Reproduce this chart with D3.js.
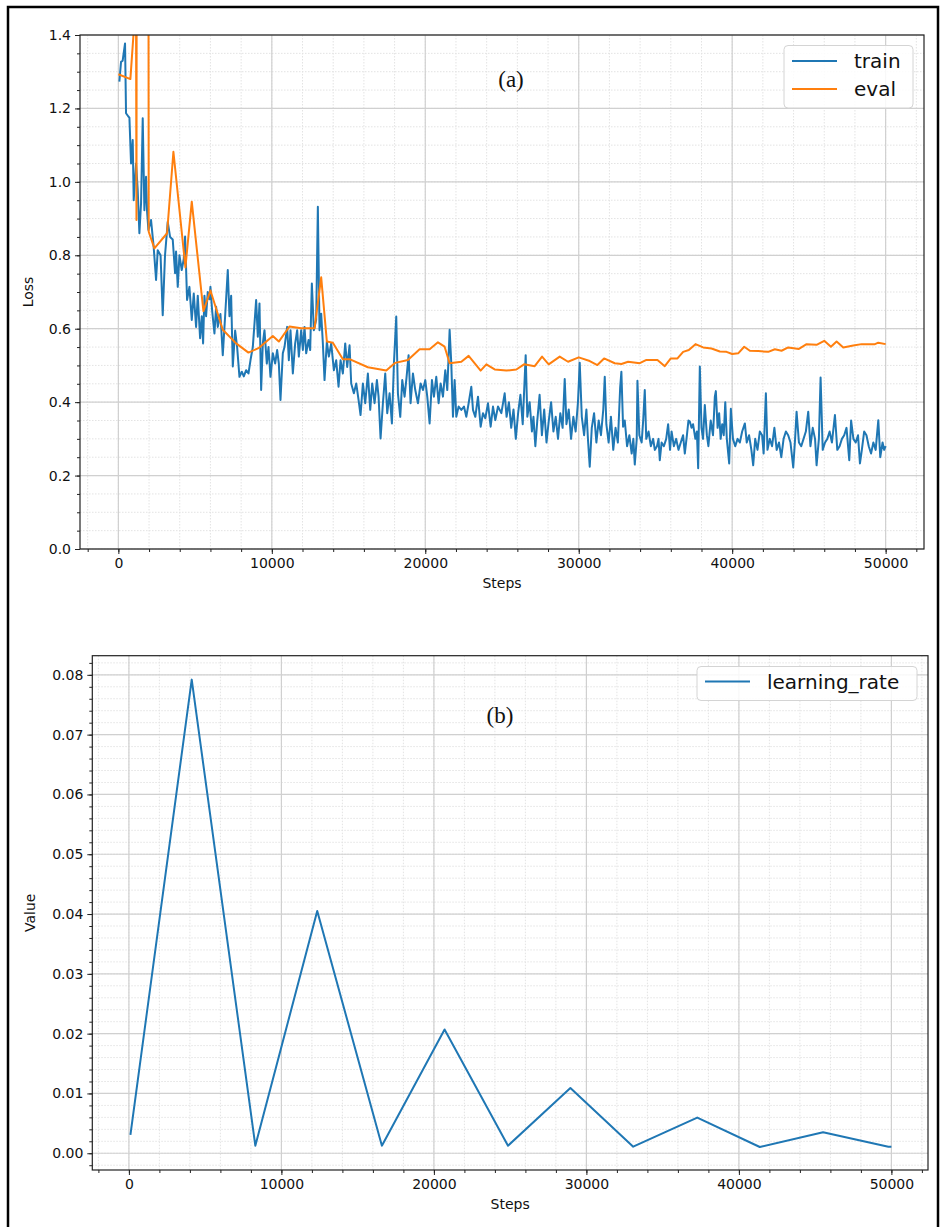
<!DOCTYPE html>
<html><head><meta charset="utf-8">
<script src="https://cdn.jsdelivr.net/npm/d3@7/dist/d3.min.js"></script>
<style>
body{margin:0;background:#fff}
svg{display:block}
text{font-family:"DejaVu Sans",sans-serif;fill:#111}
</style>
</head><body>
<svg id="c" width="940" height="1227"></svg>
<script>
// ---------------- DATA ----------------
const trainSteps = [65,174,280,435,500,650,720,826,935,1000,1152,1260,1370,1478,1587,1696,1804,1870,1957,2130,
2300,2457,2565,2750,2891,3040,3217,3370,3543,3696,3760,3870,3980,4130,4260,4348,4478,4630,4783,4913,
5065,5174,5326,5435,5522,5609,5717,5826,5935,6000,6109,6261,6370,6478,6652,6804,6957,7130,7240,7350,
7457,7610,7740,7891,8043,8174,8326,8478,8609,8761,8870,8978,9087,9196,9304,9413,9522,9674,9783,9913,
10065,10217,10348,10457,10565,10717,10826,11000,11109,11217,11370,11522,11652,11761,11913,12022,12130,12240,12391,12500,
12609,12740,12891,13000,13109,13217,13326,13435,13587,13717,13870,14043,14196,14348,14478,14630,14783,14913,15065,15174,
15348,15500,15652,15783,15935,16087,16260,16413,16543,16696,16848,16957,17087,17239,17391,17522,17674,17826,17957,18109,
18217,18370,18500,18652,18783,18913,19043,19196,19348,19522,19696,19848,20000,20130,20283,20435,20565,20717,20870,21000,
21152,21304,21435,21587,21696,21804,21913,22022,22174,22348,22522,22674,22826,23000,23109,23261,23435,23609,23761,23913,
24087,24261,24413,24565,24739,24957,25174,25300,25450,25600,25750,25900,26050,26200,26350,26543,26650,26800,26950,27050,
27174,27300,27450,27600,27750,27900,28050,28200,28350,28500,28650,28800,28950,29087,29200,29350,29500,29650,29800,29950,
30065,30200,30350,30500,30600,30717,30850,31000,31150,31300,31450,31600,31696,31800,31950,32100,32250,32400,32550,32700,
32780,32890,33000,33150,33300,33450,33560,33652,33780,33826,33950,34100,34200,34304,34400,34550,34700,34850,34957,35100,
35200,35283,35400,35550,35700,35826,35950,36050,36200,36350,36500,36650,36800,36913,37050,37150,37239,37350,37450,37600,
37700,37783,37891,38000,38100,38217,38350,38450,38600,38750,38870,38935,39050,39150,39250,39350,39450,39550,39650,39804,
39913,40050,40200,40350,40500,40650,40826,40950,41100,41250,41370,41500,41650,41800,41950,42050,42196,42300,42450,42600,
42750,42900,43050,43200,43350,43500,43650,43800,43978,44100,44196,44350,44500,44650,44800,44957,45100,45250,45400,45500,
45650,45761,45900,46050,46200,46350,46500,46696,46850,47000,47150,47300,47450,47630,47750,47900,48050,48200,48326,48450,
48600,48750,48900,49050,49200,49350,49522,49650,49800,49900,50000];
const trainLoss = [1.273,1.327,1.33,1.377,1.187,1.178,1.175,1.05,1.114,0.95,1.05,0.978,0.86,0.941,1.173,0.923,1.014,0.92,0.869,0.896,
0.823,0.733,0.814,0.80,0.637,0.80,0.891,0.85,0.843,0.751,0.81,0.714,0.80,0.76,0.79,0.851,0.678,0.714,0.624,0.696,
0.605,0.69,0.574,0.634,0.56,0.69,0.634,0.70,0.68,0.714,0.65,0.587,0.66,0.605,0.64,0.528,0.634,0.76,0.634,0.69,
0.497,0.595,0.55,0.469,0.483,0.47,0.487,0.478,0.514,0.55,0.614,0.678,0.578,0.669,0.433,0.56,0.596,0.505,0.55,0.469,
0.533,0.505,0.542,0.505,0.406,0.533,0.55,0.605,0.514,0.596,0.478,0.56,0.596,0.524,0.596,0.542,0.605,0.533,0.569,0.542,
0.723,0.596,0.624,0.932,0.596,0.641,0.56,0.46,0.565,0.524,0.56,0.487,0.514,0.442,0.514,0.478,0.56,0.496,0.555,0.451,
0.424,0.451,0.406,0.365,0.451,0.397,0.478,0.379,0.451,0.397,0.46,0.415,0.301,0.397,0.478,0.37,0.424,0.342,0.505,0.633,
0.424,0.36,0.46,0.415,0.469,0.528,0.397,0.478,0.433,0.397,0.451,0.433,0.46,0.415,0.342,0.46,0.415,0.469,0.397,0.451,
0.415,0.487,0.433,0.597,0.505,0.36,0.46,0.36,0.388,0.379,0.388,0.36,0.397,0.442,0.379,0.36,0.415,0.333,0.37,0.356,
0.397,0.333,0.388,0.351,0.388,0.37,0.424,0.36,0.40,0.33,0.38,0.30,0.37,0.42,0.34,0.528,0.36,0.40,0.32,0.36,
0.28,0.35,0.42,0.31,0.38,0.29,0.35,0.40,0.32,0.36,0.30,0.37,0.33,0.463,0.34,0.38,0.30,0.36,0.32,0.40,
0.507,0.36,0.31,0.38,0.30,0.224,0.33,0.37,0.29,0.35,0.31,0.38,0.469,0.34,0.29,0.36,0.27,0.33,0.29,0.44,
0.483,0.333,0.35,0.28,0.31,0.26,0.30,0.23,0.30,0.458,0.31,0.29,0.35,0.433,0.30,0.32,0.28,0.30,0.27,0.28,
0.30,0.242,0.29,0.28,0.30,0.34,0.27,0.32,0.28,0.30,0.27,0.29,0.31,0.26,0.31,0.35,0.347,0.33,0.34,0.30,
0.32,0.22,0.497,0.33,0.30,0.392,0.31,0.28,0.35,0.31,0.415,0.43,0.33,0.37,0.30,0.34,0.31,0.40,0.30,0.233,
0.382,0.30,0.28,0.30,0.29,0.32,0.342,0.29,0.31,0.27,0.228,0.30,0.27,0.32,0.31,0.26,0.424,0.27,0.30,0.28,
0.33,0.27,0.29,0.25,0.30,0.32,0.31,0.29,0.222,0.30,0.374,0.29,0.28,0.30,0.32,0.374,0.28,0.33,0.30,0.228,
0.30,0.467,0.27,0.29,0.30,0.32,0.29,0.365,0.27,0.28,0.30,0.31,0.33,0.242,0.35,0.30,0.29,0.31,0.233,0.27,
0.32,0.31,0.28,0.26,0.29,0.27,0.351,0.25,0.29,0.27,0.28];

const evalSteps = [0,783,1150,1180,1560,1978,2348,3174,3587,4370,4783,5543,6000,6804,7674,8478,9130,10065,10457,11150,
11913,12783,13217,13587,13978,14630,15065,16260,17457,18043,18870,19630,20283,20826,21261,21587,22350,22826,23609,23980,
24522,25283,25935,26435,27130,27609,28043,28761,29304,30000,30717,31217,31652,32348,32783,33217,33978,34413,35130,35609,
36000,36435,36804,37174,37609,38109,38652,39196,39630,40000,40391,40783,41152,41696,42348,42783,43217,43652,44348,44848,
45500,46000,46435,46804,47239,47891,48435,49304,49522,50000];
const evalLoss = [1.293,1.28,1.5,0.896,20,0.864,0.819,0.86,1.082,0.767,0.946,0.648,0.704,0.597,0.56,0.535,0.547,0.58,0.565,0.606,
0.601,0.601,0.74,0.565,0.562,0.517,0.517,0.495,0.486,0.507,0.515,0.544,0.544,0.563,0.551,0.506,0.51,0.526,0.486,0.503,
0.489,0.486,0.489,0.503,0.498,0.524,0.503,0.524,0.51,0.522,0.512,0.501,0.519,0.506,0.504,0.51,0.506,0.515,0.515,0.498,
0.519,0.519,0.537,0.542,0.558,0.549,0.546,0.538,0.537,0.531,0.533,0.551,0.54,0.539,0.537,0.544,0.54,0.549,0.545,0.558,
0.556,0.567,0.551,0.565,0.549,0.554,0.558,0.558,0.562,0.558];

const lrSteps = [100,4120,8290,12350,16590,20700,24860,28950,33070,37270,41370,45520,49800,50000];
const lrValues = [0.00307,0.0792,0.00127,0.0405,0.00127,0.0207,0.00127,0.0109,0.0011,0.00597,0.00105,0.00352,0.0011,0.0011];

const stepTicks = [0,10000,20000,30000,40000,50000];
const lossTicks = [0,0.2,0.4,0.6,0.8,1.0,1.2,1.4];
const lrTicks = [0,0.01,0.02,0.03,0.04,0.05,0.06,0.07,0.08];

// ---------------- DRAW ----------------
const svg = d3.select("#c");
const BLUE = "#1f77b4", ORANGE = "#ff7f0e";

// figure frame
svg.append("rect").attr("x",8).attr("y",7).attr("width",930).attr("height",1240)
  .attr("fill","none").attr("stroke","#000").attr("stroke-width",2.5);

function panel(o){
  const g = svg.append("g");
  const x = d3.scaleLinear().domain(o.xDom).range([o.left,o.right]);
  const y = d3.scaleLinear().domain(o.yDom).range([o.bottom,o.top]);
  const xMinor = d3.range(-2000, 52001, 2000).filter(v=>v>=o.xDom[0]&&v<=o.xDom[1]);
  const yMinor = d3.range(Math.ceil(o.yDom[0]/o.yMinorStep), Math.floor(o.yDom[1]/o.yMinorStep)+1)
      .map(i=>+(i*o.yMinorStep).toFixed(6));
  // minor grid
  g.append("g").selectAll("line").data(xMinor).join("line")
    .attr("x1",d=>x(d)).attr("x2",d=>x(d)).attr("y1",o.top).attr("y2",o.bottom)
    .attr("stroke","#e3e3e3").attr("stroke-width",1).attr("stroke-dasharray","1.5,1.5");
  g.append("g").selectAll("line").data(yMinor).join("line")
    .attr("y1",d=>y(d)).attr("y2",d=>y(d)).attr("x1",o.left).attr("x2",o.right)
    .attr("stroke","#e3e3e3").attr("stroke-width",1).attr("stroke-dasharray","1.5,1.5");
  // major grid
  g.append("g").selectAll("line").data(stepTicks).join("line")
    .attr("x1",d=>x(d)).attr("x2",d=>x(d)).attr("y1",o.top).attr("y2",o.bottom)
    .attr("stroke","#d0d0d0").attr("stroke-width",1.2);
  g.append("g").selectAll("line").data(o.yTicks).join("line")
    .attr("y1",d=>y(d)).attr("y2",d=>y(d)).attr("x1",o.left).attr("x2",o.right)
    .attr("stroke","#d0d0d0").attr("stroke-width",1.2);

  // series
  const clipId = "clip"+o.id;
  svg.append("clipPath").attr("id",clipId).append("rect")
    .attr("x",o.left).attr("y",o.top).attr("width",o.right-o.left).attr("height",o.bottom-o.top);
  o.series.forEach(s=>{
    const line = d3.line().x((d,i)=>x(s.xs[i])).y((d,i)=>y(s.ys[i]));
    g.append("path").datum(s.ys).attr("d",line).attr("fill","none")
      .attr("stroke",s.color).attr("stroke-width",2).attr("stroke-linejoin","round")
      .attr("clip-path",`url(#${clipId})`);
  });

  // spines
  g.append("rect").attr("x",o.left).attr("y",o.top).attr("width",o.right-o.left).attr("height",o.bottom-o.top)
    .attr("fill","none").attr("stroke","#222").attr("stroke-width",1.2);

  // axes
  const xa = g.append("g").attr("transform",`translate(0,${o.bottom})`)
    .call(d3.axisBottom(x).tickValues(stepTicks).tickFormat(d3.format("d")).tickSize(5).tickSizeOuter(0).tickPadding(4));
  const xm = g.append("g").attr("transform",`translate(0,${o.bottom})`)
    .call(d3.axisBottom(x).tickValues(xMinor).tickFormat("").tickSize(3).tickSizeOuter(0));
  const ya = g.append("g").attr("transform",`translate(${o.left},0)`)
    .call(d3.axisLeft(y).tickValues(o.yTicks).tickFormat(d3.format(o.yFmt)).tickSize(5).tickSizeOuter(0).tickPadding(4));
  const ym = g.append("g").attr("transform",`translate(${o.left},0)`)
    .call(d3.axisLeft(y).tickValues(yMinor).tickFormat("").tickSize(3).tickSizeOuter(0));
  [xa,xm,ya,ym].forEach(a=>{
    a.select(".domain").remove();
    a.selectAll("line").attr("stroke","#222").attr("stroke-width",1);
    a.selectAll("text").attr("font-size",14).attr("fill","#111");
  });

  // axis labels
  g.append("text").attr("x",(o.left+o.right)/2 + o.xLabelDx).attr("y",o.bottom+39)
    .attr("text-anchor","middle").attr("font-size",14).text("Steps");
  g.append("text").attr("transform",`translate(${o.yLabelX},${(o.top+o.bottom)/2}) rotate(-90)`)
    .attr("text-anchor","middle").attr("font-size",14).text(o.yLabel);

  // panel tag
  g.append("text").attr("x",o.tag[0]).attr("y",o.tag[1]).attr("text-anchor","middle")
    .style("font-family","'Liberation Serif','Times New Roman',serif").attr("font-size",23).text(o.tag[2]);

  // legend
  const L = o.legend;
  g.append("rect").attr("x",L.x).attr("y",L.y).attr("width",L.w).attr("height",L.h).attr("rx",4)
    .attr("fill","#fff").attr("fill-opacity",0.85).attr("stroke","#d4d4d4").attr("stroke-width",1);
  L.items.forEach((it,i)=>{
    const cy = L.y + L.first + i*L.step;
    g.append("line").attr("x1",L.x+8).attr("x2",L.x+53).attr("y1",cy).attr("y2",cy)
      .attr("stroke",it.color).attr("stroke-width",2);
    g.append("text").attr("x",L.x+70).attr("y",cy).attr("dy","0.35em").attr("font-size",20).text(it.label);
  });
}

panel({
  id:"a", left:80, right:924, top:35, bottom:549,
  xDom:[-2500,52500], yDom:[0,1.4], yTicks:lossTicks, yMinorStep:0.05, yFmt:".1f",
  yLabel:"Loss", yLabelX:33, xLabelDx:0,
  series:[{xs:trainSteps, ys:trainLoss, color:BLUE},{xs:evalSteps, ys:evalLoss, color:ORANGE}],
  tag:[511,87,"(a)"],
  legend:{x:784,y:45.5,w:129,h:62.5,first:15.5,step:28,
    items:[{label:"train",color:BLUE},{label:"eval",color:ORANGE}]}
});

panel({
  id:"b", left:92.3, right:928, top:655.7, bottom:1170,
  xDom:[-2400,52400], yDom:[-0.0028,0.0832], yTicks:lrTicks, yMinorStep:0.002, yFmt:".2f",
  yLabel:"Value", yLabelX:35, xLabelDx:0,
  series:[{xs:lrSteps, ys:lrValues, color:BLUE}],
  tag:[500,723,"(b)"],
  legend:{x:697,y:666.5,w:220,h:34,first:15,step:28,
    items:[{label:"learning_rate",color:BLUE}]}
});
</script>
</body></html>
